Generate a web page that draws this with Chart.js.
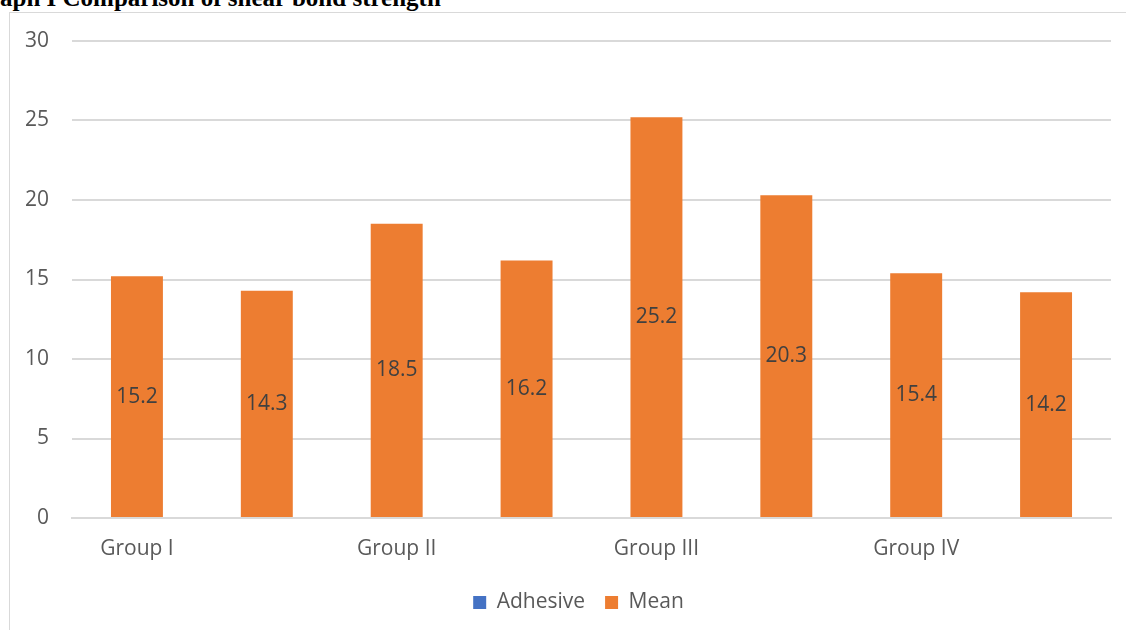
<!DOCTYPE html>
<html>
<head>
<meta charset="utf-8">
<script src="https://cdn.jsdelivr.net/npm/chart.js@4"></script>
<style>
    body { margin: 0; background: #fff; width: 1126px; height: 630px; overflow: hidden; position: relative; }
    #title {
        position: absolute; left: 0; top: -15px; white-space: nowrap;
        font: bold 25px "Liberation Serif", "Times New Roman", serif; line-height: 25px; color: #000;
    }
    #box {
        position: absolute; left: 9px; top: 12px; width: 1117px; height: 618px;
        border-left: 1px solid #d9d9d9; border-top: 1px solid #d9d9d9;
    }
</style>
</head>
<body>
<div id="title">aph I Comparison of shear bond strength</div>
<div id="box"><canvas id="chart"></canvas></div>
<script>
const categories = ['Group I', '', 'Group II', '', 'Group III', '', 'Group IV', ''];
const adhesiveValues = [null, null, null, null, null, null, null, null];
const meanValues = [15.2, 14.3, 18.5, 16.2, 25.2, 20.3, 15.4, 14.2];
const yTicks = [0, 5, 10, 15, 20, 25, 30];

// labels in the middle of each bar
const barLabels = {
    id: 'barLabels',
    afterDatasetsDraw(chart) {
        const ctx = chart.ctx;
        const meta = chart.getDatasetMeta(1);
        ctx.save();
        ctx.font = '21px "Open Sans", sans-serif';
        ctx.fillStyle = '#404040';
        ctx.textAlign = 'center';
        ctx.textBaseline = 'middle';
        meta.data.forEach((bar, i) => {
            if (meanValues[i] == null) return;
            const mid = (bar.y + bar.base) / 2;
            ctx.fillText(meanValues[i].toFixed(1), bar.x, mid);
        });
        ctx.restore();
    }
};

// legend sits a bit right of the canvas centre, under the plot
const legendShift = {
    id: 'legendShift',
    afterLayout(chart) {
        if (!chart.legend) return;
        chart.legend.left += 18;
        chart.legend.right += 18;
    }
};

const chartContainer = document.querySelector('#chart');
new Chart(chartContainer, {
    type: 'bar',
    data: {
        labels: categories,
        datasets: [
            { label: 'Adhesive', data: adhesiveValues, backgroundColor: '#4472C4' },
            { label: 'Mean', data: meanValues, backgroundColor: '#ED7D31' },
        ]
    },
    options: {
        responsive: true,
        maintainAspectRatio: false,
        animation: false,
        layout: { padding: { top: 28, right: 16, left: 0, bottom: 8 } },
        datasets: { bar: { grouped: false, barPercentage: 0.4, categoryPercentage: 1 } },
        plugins: {
            legend: {
                position: 'bottom',
                labels: {
                    font: { family: '"Open Sans", sans-serif', size: 21 },
                    color: '#595959',
                    boxWidth: 13, boxHeight: 13, padding: 20
                }
            },
            tooltip: { enabled: false }
        },
        scales: {
            x: {
                grid: { display: false, drawTicks: false },
                border: { color: '#d9d9d9', width: 2 },
                ticks: {
                    font: { family: '"Open Sans", sans-serif', size: 21 },
                    color: '#595959', padding: 18, maxRotation: 0, autoSkip: false
                },
                afterFit: s => { s.height = 54; }
            },
            y: {
                min: 0, max: 30,
                afterBuildTicks: s => { s.ticks = yTicks.map(v => ({ value: v })); },
                grid: { color: '#d9d9d9', lineWidth: 2, drawTicks: false },
                border: { display: false },
                ticks: {
                    font: { family: '"Open Sans", sans-serif', size: 21 },
                    color: '#595959', padding: 23
                },
                afterFit: s => { s.width = 62; s.paddingTop = 0; s.paddingBottom = 0; }
            }
        }
    },
    plugins: [barLabels, legendShift]
});
</script>
</body>
</html>
